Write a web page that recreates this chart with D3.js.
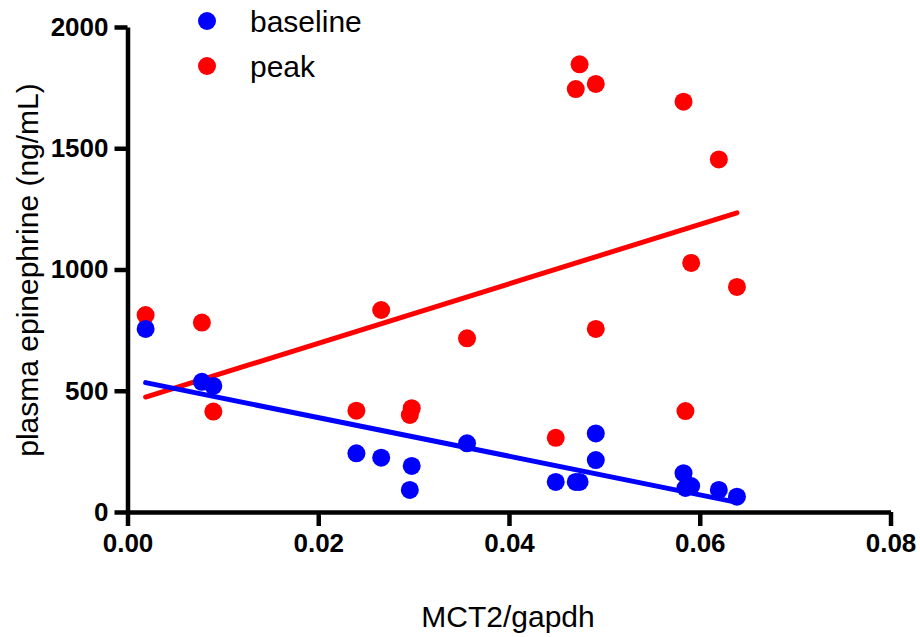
<!DOCTYPE html>
<html>
<head>
<meta charset="utf-8">
<script src="https://cdn.jsdelivr.net/npm/d3@7"></script>
<style>
  body { margin: 0; background: #fff; }
  text { font-family: "Liberation Sans", Arial, sans-serif; }
  .axis path, .axis line { stroke: #000; stroke-width: 4.5px; }
  .axis text { font-size: 26px; font-weight: bold; fill: #000; }
</style>
</head>
<body>
<div id="chart"></div>
<script>
// MCT2/gapdh for each animal (shared by both series)
var mct2 = [0.0019, 0.0078, 0.0090, 0.0240, 0.0266, 0.0298, 0.0296, 0.0356, 0.0449,
            0.0470, 0.0474, 0.0491, 0.0491, 0.0583, 0.0585, 0.0591, 0.0620, 0.0639];
var baseline = [755, 537, 520, 242, 224, 190, 91, 283, 124,
                124, 124, 324, 214, 160, 99, 107, 91, 63];
var peak = [812, 781, 414, 418, 833, 428, 400, 716, 306,
            1744, 1846, 1765, 755, 1692, 416, 1027, 1454, 928];
var x_ticks = [0, 0.02, 0.04, 0.06, 0.08];
var y_ticks = [0, 500, 1000, 1500, 2000];

var chart_width = 920;
var chart_height = 637;

var svg = d3.select('#chart')
  .append('svg')
  .attr('width', chart_width)
  .attr('height', chart_height);

var x_scale = d3.scaleLinear().domain([0, 0.08]).range([127.5, 890.5]);
var y_scale = d3.scaleLinear().domain([0, 2000]).range([512, 27]);

// least squares fit, drawn over the range of x
function fit(xs, ys) {
  var mx = d3.mean(xs), my = d3.mean(ys);
  var sxy = d3.sum(xs, function(x, i) { return (x - mx) * (ys[i] - my); });
  var sxx = d3.sum(xs, function(x) { return (x - mx) * (x - mx); });
  var b = sxy / sxx, a = my - b * mx;
  var ext = d3.extent(xs);
  return ext.map(function(x) { return [x, a + b * x]; });
}

var series = [
  { name: 'peak', color: '#ff0000', values: peak },
  { name: 'baseline', color: '#0000ff', values: baseline }
];

var line = d3.line()
  .x(function(d) { return x_scale(d[0]); })
  .y(function(d) { return y_scale(d[1]); });

series.forEach(function(s) {
  svg.append('path')
    .datum(fit(mct2, s.values))
    .attr('d', line)
    .attr('stroke', s.color)
    .attr('stroke-width', 5)
    .attr('stroke-linecap', 'round')
    .attr('fill', 'none');

  svg.append('g')
    .selectAll('circle')
    .data(s.values)
    .enter()
    .append('circle')
    .attr('cx', function(d, i) { return x_scale(mct2[i]); })
    .attr('cy', function(d) { return y_scale(d); })
    .attr('r', 9)
    .attr('fill', s.color);
});

// axes
var x_axis = d3.axisBottom(x_scale)
  .tickValues(x_ticks)
  .tickSize(14)
  .tickSizeOuter(0)
  .tickPadding(8)
  .tickFormat(d3.format('.2f'));
svg.append('g')
  .attr('class', 'axis')
  .attr('transform', 'translate(0,512)')
  .call(x_axis);

var y_axis = d3.axisLeft(y_scale)
  .tickValues(y_ticks)
  .tickSize(13)
  .tickSizeOuter(0)
  .tickPadding(6)
  .tickFormat(d3.format('d'));
svg.append('g')
  .attr('class', 'axis')
  .attr('transform', 'translate(127.5,0)')
  .call(y_axis);

// axis titles
svg.append('text')
  .attr('x', 508)
  .attr('y', 627)
  .attr('text-anchor', 'middle')
  .attr('font-size', 30)
  .text('MCT2/gapdh');

svg.append('text')
  .attr('transform', 'translate(38,270) rotate(-90)')
  .attr('text-anchor', 'middle')
  .attr('font-size', 30)
  .text('plasma epinephrine (ng/mL)');

// legend
var legend = svg.append('g')
  .selectAll('g')
  .data(series.slice().reverse())
  .enter()
  .append('g')
  .attr('transform', function(d, i) { return 'translate(207,' + (21 + i * 45) + ')'; });
legend.append('circle')
  .attr('r', 9)
  .attr('fill', function(d) { return d.color; });
legend.append('text')
  .attr('x', 43)
  .attr('dy', '0.35em')
  .attr('font-size', 30)
  .text(function(d) { return d.name; });
</script>
</body>
</html>
